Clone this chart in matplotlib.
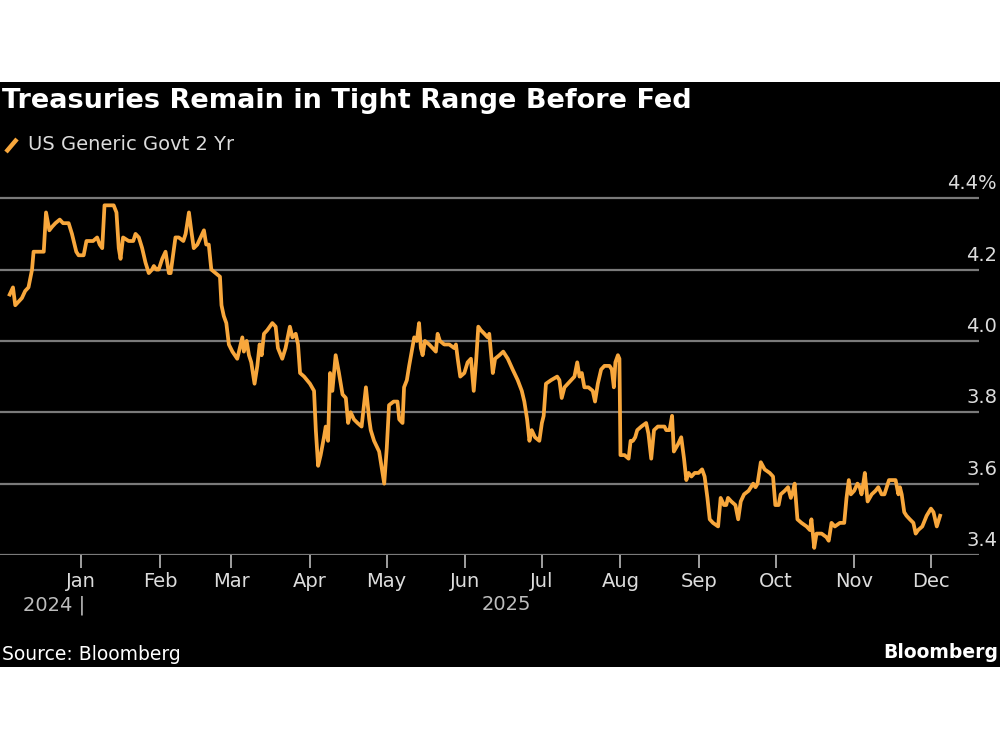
import matplotlib
matplotlib.use("Agg")
import matplotlib.pyplot as plt
import matplotlib.dates as mdates
import matplotlib.transforms as mtransforms
from matplotlib.lines import Line2D
from matplotlib.patches import Rectangle
import pandas as pd

# ---------------- data ----------------
title = "Treasuries Remain in Tight Range Before Fed"
series_name = "US Generic Govt 2 Yr"
source = "Source: Bloomberg"
brand = "Bloomberg"

base_date = "2025-01-01"
days_since_base = [
    -28.2, -26.9, -26.0, -24.7, -23.4, -22.1, -20.8, -19.4, -18.8, -17.4,
    -15.5, -14.8, -13.9, -12.6, -11.5, -10.2, -8.5, -7.2, -5.0, -3.7,
    -2.0, -1.1, 0.9, 2.0, 3.5, 4.6, 6.2, 7.2, 8.2, 9.1,
    11.4, 12.7, 13.8, 14.7, 15.4, 16.4, 18.6, 20.4, 21.3, 22.6,
    23.9, 25.2, 26.5, 27.8, 28.5, 29.5, 30.4, 31.8, 33.1, 34.4,
    35.1, 37.0, 38.3, 40.1, 41.0, 42.3, 43.2, 44.2, 45.6, 46.9,
    48.2, 49.1, 50.1, 51.1, 52.8, 54.5, 55.1, 56.0, 57.0, 58.0,
    59.4, 61.3, 62.3, 63.3, 63.9, 65.0, 65.9, 66.8, 68.1, 69.2,
    70.1, 70.9, 71.8, 73.1, 75.1, 76.4, 77.3, 79.0, 80.3, 82.0,
    83.0, 84.3, 85.2, 86.0, 87.6, 89.9, 91.5, 92.2, 93.1, 94.1,
    95.4, 96.1, 97.0, 97.8,
    98.7, 100.0, 101.3, 102.7, 104.0, 104.9, 105.9, 107.2, 108.6, 110.2,
    111.9, 113.2, 113.8, 115.1, 117.1, 118.0, 119.1, 120.1, 121.0, 122.8,
    124.3, 125.0, 126.3, 126.9, 128.0, 128.9, 129.9, 130.9, 131.9, 132.8,
    133.5, 134.2, 135.1, 136.8, 138.1, 139.4, 140.1, 141.0, 142.7, 144.7,
    146.6, 147.3, 148.0, 149.0, 150.6, 151.9, 153.2, 154.3, 155.2, 156.1,
    157.1, 158.5, 159.8, 160.4, 161.8,
    162.7, 164.4, 165.9, 167.7, 169.6, 171.6, 173.2, 174.2, 175.3, 176.2,
    177.1, 178.4, 180.1, 181.1, 181.8, 182.7, 184.7, 187.1, 188.0, 188.9,
    190.0, 191.3, 192.6, 193.9, 195.0, 195.9, 196.8, 197.8, 199.4, 201.1,
    202.0, 203.1, 204.4, 205.7, 207.7, 208.6, 209.4, 210.0, 211.0, 211.6,
    212.0, 213.6, 215.2, 216.0, 216.9, 217.8, 218.6, 220.2, 222.1, 223.0,
    224.1, 225.2, 226.7, 228.0, 229.3, 230.0, 231.3, 232.3, 233.0, 234.6,
    235.9, 237.0, 237.9, 238.8, 239.9, 241.2, 242.7, 244.1, 245.1, 246.2,
    247.1, 248.4, 250.4, 251.4, 252.7, 253.6, 254.3, 255.6, 257.2, 258.3,
    259.3, 260.6, 262.4, 264.2, 265.1, 265.9, 267.2, 268.7, 270.7, 272.0,
    272.9, 274.2, 275.0, 276.6, 277.9, 279.0, 279.9, 280.5, 281.6, 283.2,
    285.2, 286.5, 287.1, 288.2, 289.1, 291.1, 293.0, 293.9, 295.0, 296.3,
    298.3, 300.0, 300.9, 301.8, 302.6, 303.9, 305.2, 306.1, 306.8, 307.5,
    308.1, 309.2, 310.8, 312.3, 313.4, 314.7, 315.8, 316.7, 317.6, 318.9,
    320.2, 321.3, 321.9, 322.6, 323.6, 324.5, 325.8, 327.2, 328.1, 329.1,
    330.7, 332.4, 334.1, 335.1, 336.4, 337.7,
]
yield_pct = [
    4.13, 4.15, 4.10, 4.11, 4.12, 4.14, 4.15, 4.20, 4.25, 4.25,
    4.25, 4.25, 4.36, 4.31, 4.32, 4.33, 4.34, 4.33, 4.33, 4.30,
    4.25, 4.24, 4.24, 4.28, 4.28, 4.28, 4.29, 4.27, 4.26, 4.38,
    4.38, 4.38, 4.36, 4.26, 4.23, 4.29, 4.28, 4.28, 4.30, 4.29,
    4.26, 4.22, 4.19, 4.20, 4.21, 4.20, 4.20, 4.23, 4.25, 4.19,
    4.19, 4.29, 4.29, 4.28, 4.30, 4.36, 4.31, 4.26, 4.27, 4.29,
    4.31, 4.27, 4.27, 4.20, 4.19, 4.18, 4.10, 4.07, 4.05, 3.99,
    3.97, 3.95, 3.98, 4.01, 3.97, 4.00, 3.96, 3.94, 3.88, 3.93,
    3.99, 3.96, 4.02, 4.03, 4.05, 4.04, 3.98, 3.95, 3.98, 4.04,
    4.01, 4.02, 3.99, 3.91, 3.90, 3.88, 3.86, 3.75, 3.65, 3.68,
    3.73, 3.76, 3.72, 3.91,
    3.86, 3.96, 3.91, 3.85, 3.84, 3.77, 3.80, 3.78, 3.77, 3.76,
    3.87, 3.78, 3.75, 3.72, 3.69, 3.65, 3.60, 3.70, 3.82, 3.83,
    3.83, 3.78, 3.77, 3.87, 3.89, 3.93, 3.97, 4.01, 4.00, 4.05,
    3.98, 3.96, 4.00, 3.99, 3.98, 3.97, 4.02, 4.00, 3.99, 3.99,
    3.98, 3.99, 3.95, 3.90, 3.91, 3.94, 3.95, 3.86, 3.94, 4.04,
    4.03, 4.02, 4.01, 4.02, 3.91,
    3.95, 3.96, 3.97, 3.95, 3.92, 3.89, 3.86, 3.83, 3.78, 3.72,
    3.75, 3.73, 3.72, 3.77, 3.79, 3.88, 3.89, 3.90, 3.89, 3.84,
    3.87, 3.88, 3.89, 3.90, 3.94, 3.90, 3.91, 3.87, 3.87, 3.86,
    3.83, 3.88, 3.92, 3.93, 3.93, 3.92, 3.87, 3.94, 3.96, 3.95,
    3.68, 3.68, 3.67, 3.72, 3.72, 3.73, 3.75, 3.76, 3.77, 3.74,
    3.67, 3.75, 3.76, 3.76, 3.76, 3.75, 3.75, 3.79, 3.69, 3.71,
    3.73, 3.67, 3.61, 3.63, 3.62, 3.63, 3.63, 3.64, 3.62, 3.56,
    3.50, 3.49, 3.48, 3.56, 3.54, 3.54, 3.56, 3.55, 3.54, 3.50,
    3.55, 3.57, 3.58, 3.60, 3.59, 3.60, 3.66, 3.64, 3.63, 3.62,
    3.54, 3.54, 3.57, 3.58, 3.59, 3.56, 3.58, 3.60, 3.50, 3.49,
    3.48, 3.47, 3.50, 3.42, 3.46, 3.46, 3.45, 3.44, 3.49, 3.48,
    3.49, 3.49, 3.56, 3.61, 3.57, 3.58, 3.60, 3.59, 3.57, 3.60,
    3.63, 3.55, 3.57, 3.58, 3.59, 3.57, 3.57, 3.59, 3.61, 3.61,
    3.61, 3.57, 3.59, 3.57, 3.52, 3.51, 3.50, 3.49, 3.46, 3.47,
    3.48, 3.51, 3.53, 3.52, 3.48, 3.51,
]
y_ticks = [3.4, 3.6, 3.8, 4.0, 4.2, 4.4]
y_tick_labels = ["3.4", "3.6", "3.8", "4.0", "4.2", "4.4%"]
month_ticks = pd.date_range("2025-01-01", "2025-12-01", freq="MS")
x_range = ("2024-11-30", "2025-12-20")
y_range = (3.4, 4.465)
year_labels = [("2024 |", "2025-01-01"), ("2025", "2025-06-17")]

# ---------------- style ----------------
LINE = "#F8A73C"
GRID = "#7a7a7a"
TXT = "#dcdcdc"
FONT = "DejaVu Sans"

dates = pd.Timestamp(base_date) + pd.to_timedelta(days_since_base, unit="D")

fig = plt.figure(figsize=(10, 7.5), dpi=100, facecolor="white")
# black panel behind everything
fig.add_artist(Rectangle((0, 1 - 667 / 750), 1, (667 - 82) / 750,
                         transform=fig.transFigure, facecolor="black",
                         edgecolor="none", zorder=-10))

ax = fig.add_axes([0.0, 1 - 555 / 750, 0.979, (555 - 175) / 750])
ax.set_zorder(5)
ax.set_facecolor("none")
ax.plot(dates, yield_pct, color=LINE, lw=2.7, solid_joinstyle="round", zorder=3)

ax.set_xlim(pd.Timestamp(x_range[0]), pd.Timestamp(x_range[1]))
ax.set_ylim(*y_range)
for s in ax.spines.values():
    s.set_visible(False)
for v in y_ticks:
    ax.axhline(v, color=GRID, lw=1.6, zorder=1)
ax.set_yticks([])

ax.set_xticks(month_ticks)
ax.xaxis.set_major_formatter(mdates.DateFormatter("%b"))
ax.tick_params(axis="x", length=9, width=1.2, color="#bbbbbb", pad=3,
               labelcolor=TXT, labelsize=14, direction="out")

# y tick labels on the right, above each gridline
blend = mtransforms.blended_transform_factory(fig.transFigure, ax.transData)
for v, lab in zip(y_ticks, y_tick_labels):
    ax.text(0.997, v + 0.014, lab, transform=blend, ha="right", va="bottom",
            color=TXT, fontsize=14, fontfamily=FONT)

# year labels
for lab, d in year_labels:
    ha = "right" if lab.endswith("|") else "center"
    dx = 3 if lab.endswith("|") else 0
    ax.annotate(lab, xy=(pd.Timestamp(d), 0), xycoords=("data", "axes fraction"),
                xytext=(dx, -29), textcoords="offset points", ha=ha, va="top",
                color="#bdbdbd", fontsize=14, fontfamily=FONT)

# title and legend
fig.text(0.002, 1 - 101 / 750, title, ha="left", va="center", color="white",
         fontsize=19.5, fontweight="bold", fontfamily=FONT)
fig.add_artist(Line2D([0.006, 0.017], [1 - 152 / 750, 1 - 139 / 750],
                      transform=fig.transFigure, color=LINE, lw=3.2,
                      solid_capstyle="butt"))
fig.text(0.028, 1 - 144 / 750, series_name, ha="left", va="center", color=TXT,
         fontsize=14, fontfamily=FONT)

# footer
fig.text(0.002, 1 - 655 / 750, source, ha="left", va="center", color="white",
         fontsize=13.5, fontfamily=FONT)
fig.text(0.998, 1 - 652 / 750, brand, ha="right", va="center", color="white",
         fontsize=13.5, fontweight="bold", fontfamily=FONT)

fig.savefig("out.png", dpi=100, facecolor="white")
